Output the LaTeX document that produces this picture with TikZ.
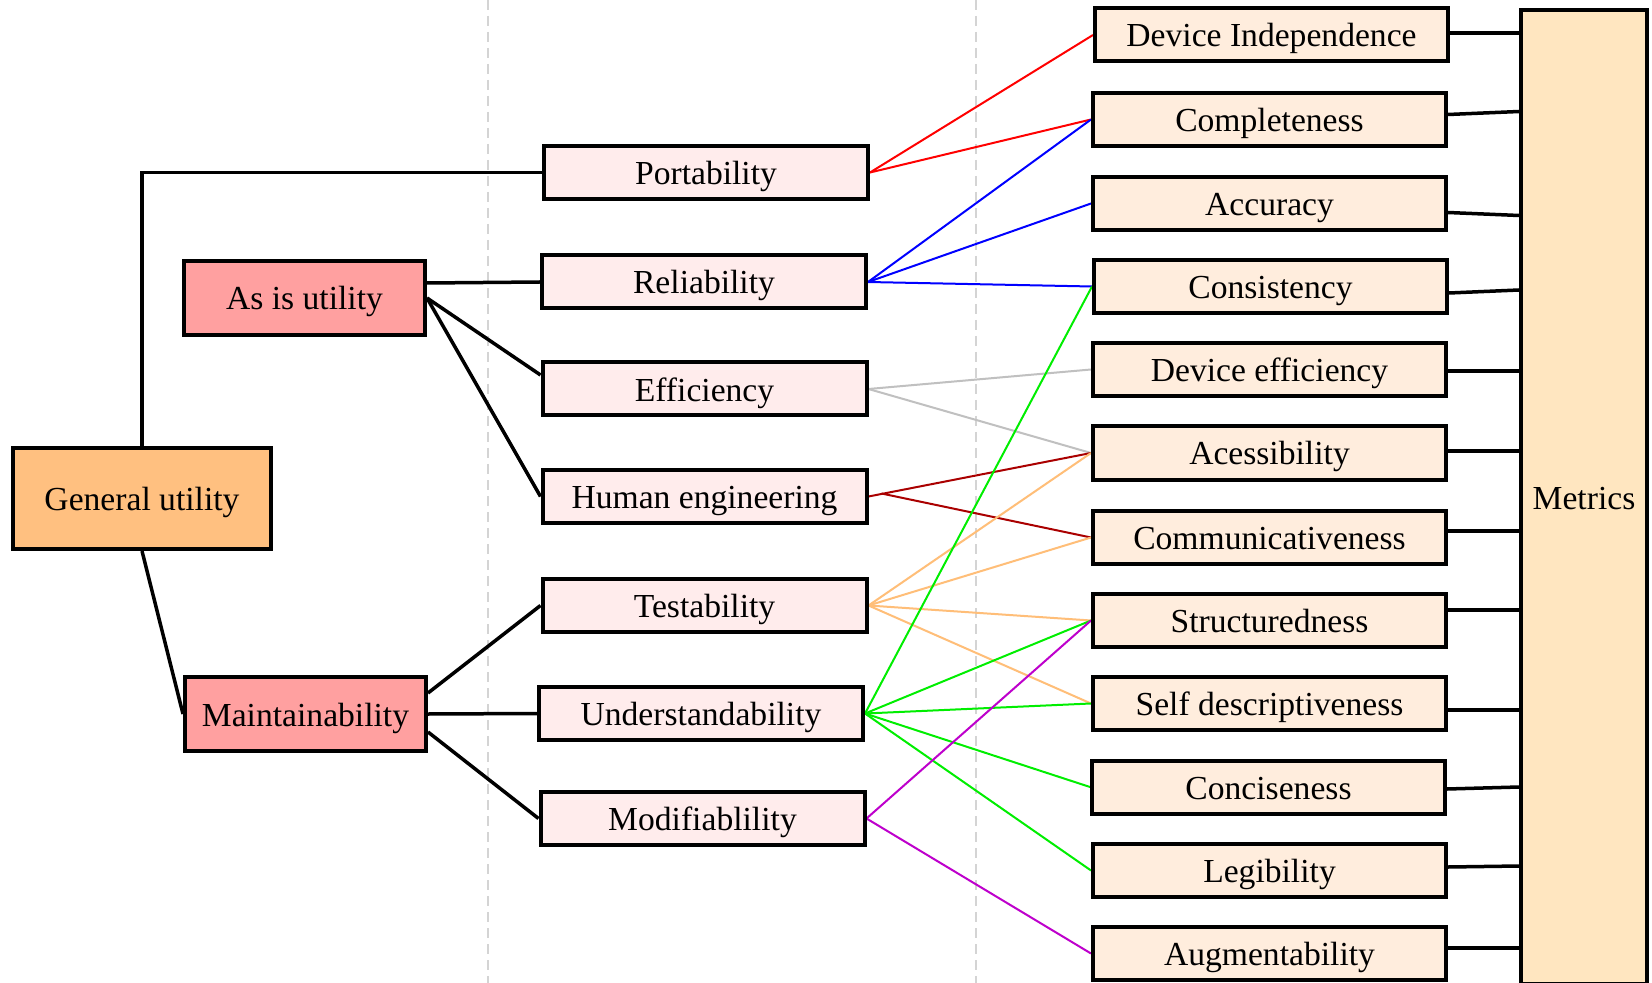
\documentclass[tikz,border=0pt]{standalone}
\usepackage{fontspec}
\setmainfont{Liberation Serif}
\usetikzlibrary{calc,backgrounds}
\definecolor{cGen}{RGB}{255,192,128}
\definecolor{cMid}{RGB}{255,160,160}
\definecolor{cPink}{RGB}{255,236,236}
\definecolor{cRight}{RGB}{255,237,221}
\definecolor{cMet}{RGB}{255,230,192}
\definecolor{eRed}{RGB}{255,0,0}
\definecolor{eBlue}{RGB}{0,0,255}
\definecolor{eGray}{RGB}{192,192,192}
\definecolor{eDark}{RGB}{170,0,0}
\definecolor{eOrange}{RGB}{255,190,120}
\definecolor{eGreen}{RGB}{0,238,0}
\definecolor{ePurple}{RGB}{190,0,204}
\definecolor{cDash}{RGB}{212,212,212}
\begin{document}
\begin{tikzpicture}[x=0.5pt,y=-0.5pt,
  box/.style={draw=black, line width=2pt, inner sep=0pt, text height=12pt, text depth=0pt,
    font=\fontsize{16.8}{20}\selectfont},
  genbox/.style={box, fill=cGen, minimum width=129pt, minimum height=50.5pt},
  midbox/.style={box, fill=cMid, minimum width=120.5pt, minimum height=37pt},
  pinkbox/.style={box, fill=cPink, minimum width=162pt, minimum height=26.5pt},
  rightbox/.style={box, fill=cRight, minimum width=176.5pt, minimum height=26.5pt},
  metbox/.style={box, fill=cMet, minimum width=63pt, minimum height=487pt},
  blk/.style={draw=black, line width=1.75pt},
  cedge/.style={line width=1pt},
  sepline/.style={draw=cDash, line width=0.7pt, dash pattern=on 5pt off 3pt}
]
\useasboundingbox (0,0) rectangle (1652,983);
\begin{pgfonlayer}{background}
\fill[white] (0,0) rectangle (1652,983);
\draw[sepline] (488,0) -- (488,983);
\draw[sepline] (976,0) -- (976,983);
\end{pgfonlayer}

% left column
\node[genbox] (gen) at (142,498.5) {General utility};
\node[midbox] (asis) at (304.5,298) {As is utility};
\node[midbox] (maint) at (305.5,714) {Maintainability};

% middle column
\node[pinkbox] (port) at (706,172.5) {Portability};
\node[pinkbox] (rel) at (704,282) {Reliability};
\node[pinkbox] (eff) at (704.5,389) {Efficiency};
\node[pinkbox] (he) at (704.5,496.5) {Human engineering};
\node[pinkbox] (test) at (704.5,605.5) {Testability};
\node[pinkbox] (und) at (701,713.5) {Understandability};
\node[pinkbox] (mod) at (702.5,818.5) {Modifiablility};

% right column
\node[rightbox] (di) at (1271.5,35) {Device Independence};
\node[rightbox] (comp) at (1269.5,119.5) {Completeness};
\node[rightbox] (acc) at (1269.5,203.5) {Accuracy};
\node[rightbox] (cons) at (1270.5,286.5) {Consistency};
\node[rightbox] (deff) at (1269.5,369.5) {Device efficiency};
\node[rightbox] (acces) at (1269.5,453) {Acessibility};
\node[rightbox] (comm) at (1269.5,537.5) {Communicativeness};
\node[rightbox] (struct) at (1269.5,620.5) {Structuredness};
\node[rightbox] (selfd) at (1269.5,703.5) {Self descriptiveness};
\node[rightbox] (conc) at (1268.5,787) {Conciseness};
\node[rightbox] (leg) at (1269.5,870.5) {Legibility};
\node[rightbox] (aug) at (1269.5,953.5) {Augmentability};

\node[metbox] (met) at (1584,497) {Metrics};

\begin{pgfonlayer}{background}
% black tree edges
\draw[blk] (gen.north) |- (port.west);
\draw[blk] (gen.south) -- (maint.west);
\draw[blk] ($(asis.east)+(0,-15)$) -- (rel.west);
\draw[blk] (asis.east) -- ($(eff.west)+(0,-14)$);
\draw[blk] (asis.east) -- (he.west);
\draw[blk] ($(maint.east)+(0,-21)$) -- (test.west);
\draw[blk] (maint.east) -- (und.west);
\draw[blk] ($(maint.east)+(0,18)$) -- (mod.west);

% coloured edges
\draw[cedge, eRed] (port.east) -- (di.west);
\draw[cedge, eRed] (port.east) -- (comp.west);
\draw[cedge, eBlue] (rel.east) -- (comp.west);
\draw[cedge, eBlue] (rel.east) -- (acc.west);
\draw[cedge, eBlue] (rel.east) -- (cons.west);
\draw[cedge, eGray] (eff.east) -- (deff.west);
\draw[cedge, eGray] (eff.east) -- (acces.west);
\draw[cedge, eDark] (he.east) -- (acces.west);
\draw[cedge, eDark] ($(he.east)+(13,-3)$) -- (comm.west);
\draw[cedge, eOrange] (test.east) -- (acces.west);
\draw[cedge, eOrange] (test.east) -- (comm.west);
\draw[cedge, eOrange] (test.east) -- (struct.west);
\draw[cedge, eOrange] (test.east) -- (selfd.west);
\draw[cedge, eGreen] (und.east) -- (cons.west);
\draw[cedge, eGreen] (und.east) -- (struct.west);
\draw[cedge, eGreen] (und.east) -- (selfd.west);
\draw[cedge, eGreen] (und.east) -- (conc.west);
\draw[cedge, eGreen] (und.east) -- (leg.west);
\draw[cedge, ePurple] (mod.east) -- (struct.west);
\draw[cedge, ePurple] (mod.east) -- (aug.west);

% edges to metrics
\draw[blk] ($(di.east)+(0,-2)$) -- ($(di.east -| met.west)+(0,-2)$);
\draw[blk] ($(comp.east)+(0,-5)$) -- ($(comp.east -| met.west)+(0,-8)$);
\draw[blk] ($(acc.east)+(0,9)$) -- ($(acc.east -| met.west)+(0,12)$);
\draw[blk] ($(cons.east)+(0,6.5)$) -- ($(cons.east -| met.west)+(0,3.5)$);
\draw[blk] ($(deff.east)+(0,1.5)$) -- ($(deff.east -| met.west)+(0,1.5)$);
\draw[blk] ($(acces.east)+(0,-2)$) -- ($(acces.east -| met.west)+(0,-2)$);
\draw[blk] ($(comm.east)+(0,-6.5)$) -- ($(comm.east -| met.west)+(0,-6.5)$);
\draw[blk] ($(struct.east)+(0,-10.5)$) -- ($(struct.east -| met.west)+(0,-10.5)$);
\draw[blk] ($(selfd.east)+(0,6.5)$) -- ($(selfd.east -| met.west)+(0,6.5)$);
\draw[blk] ($(conc.east)+(0,2)$) -- ($(conc.east -| met.west)+(0,0)$);
\draw[blk] ($(leg.east)+(0,-3.5)$) -- ($(leg.east -| met.west)+(0,-4.5)$);
\draw[blk] ($(aug.east)+(0,-5.5)$) -- ($(aug.east -| met.west)+(0,-5.5)$);
\end{pgfonlayer}
\end{tikzpicture}
\end{document}
